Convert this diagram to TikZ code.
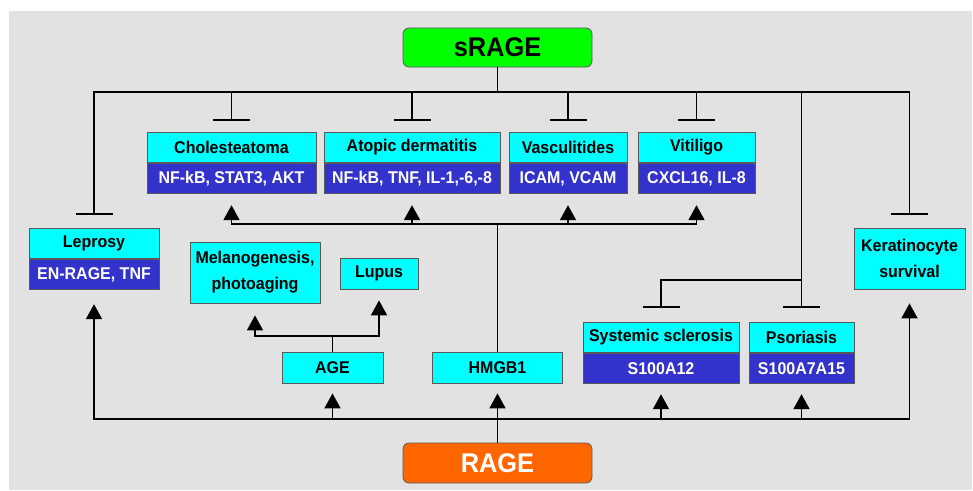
\documentclass[tikz,border=0pt]{standalone}
\usepackage{fontspec}
\setmainfont{Liberation Sans}[FakeStretch=0.94]
\usetikzlibrary{arrows.meta}
\definecolor{bggray}{HTML}{E2E2E2}
\definecolor{boxcyan}{HTML}{00FFFF}
\definecolor{boxblue}{HTML}{3333CC}
\definecolor{sragegreen}{HTML}{00FF00}
\definecolor{rageorange}{HTML}{FF6600}

\begin{document}
\begin{tikzpicture}
            [every node/.style={inner sep=0pt, font=\bfseries\fontsize{17}{26}\selectfont},
             namebox/.style={rectangle, fill=boxcyan, draw=black!65, line width=0.8pt, minimum height=30.5pt, text=black},
             genebox/.style={rectangle, fill=boxblue, draw=black!65, line width=0.8pt, minimum height=30.5pt, text=white, anchor=north},
             rootbox/.style={rectangle, rounded corners=6pt, draw=black!65, line width=0.8pt, minimum width=189pt, minimum height=39pt, font=\bfseries\fontsize{27}{30}\selectfont},
             link/.style={line width=1.8pt, color=black},
             inhibit/.style={link, -{Bar[width=37pt]}},
             activate/.style={link, -{Triangle[width=16pt, length=15pt]}}]
                \useasboundingbox (0pt, 0pt) rectangle (973pt, -490pt);
                \fill [bggray] (9pt, -11pt) rectangle (972pt, -490pt);
                % sRAGE and RAGE
                \node (srage) [rootbox, fill=sragegreen, text=black] at (497.5pt, -47.5pt) {sRAGE};
                \node (rage) [rootbox, fill=rageorange, text=white, minimum height=40pt] at (497.5pt, -463pt) {RAGE};
                % top row
                \node (chol) [namebox, minimum width=169pt] at (231.5pt, -147.25pt) {Cholesteatoma};
                \node (cholgenes) [genebox, minimum width=169pt] at (chol.south) {NF-kB, STAT3, AKT};
                \node (atop) [namebox, minimum width=176pt] at (412pt, -147.25pt) {Atopic dermatitis};
                \node (atopgenes) [genebox, minimum width=176pt] at (atop.south) {NF-kB, TNF, IL-1,-6,-8};
                \node (vasc) [namebox, minimum width=118pt] at (568pt, -147.25pt) {Vasculitides};
                \node (vascgenes) [genebox, minimum width=118pt] at (vasc.south) {ICAM, VCAM};
                \node (viti) [namebox, minimum width=117pt] at (696.5pt, -147.25pt) {Vitiligo};
                \node (vitigenes) [genebox, minimum width=117pt] at (viti.south) {CXCL16, IL-8};
                % middle
                \node (lep) [namebox, minimum width=130pt] at (94pt, -243.25pt) {Leprosy};
                \node (lepgenes) [genebox, minimum width=130pt] at (lep.south) {EN-RAGE, TNF};
                \node (mel) [namebox, minimum width=130pt, minimum height=61pt, align=center] at (255pt, -272.5pt) {Melanogenesis,\\photoaging};
                \node (lupus) [namebox, minimum width=78pt, minimum height=31pt] at (379pt, -273.5pt) {Lupus};
                \node (kera) [namebox, minimum width=111pt, minimum height=61pt, align=center] at (909.5pt, -258.5pt) {Keratinocyte\\survival};
                % bottom row
                \node (age) [namebox, minimum width=101pt, minimum height=31pt] at (332.5pt, -367.5pt) {AGE};
                \node (hmgb) [namebox, minimum width=130pt, minimum height=31pt] at (497.5pt, -367.5pt) {HMGB1};
                \node (ssc) [namebox, minimum width=156pt] at (661pt, -337.25pt) {Systemic sclerosis};
                \node (sscgenes) [genebox, minimum width=156pt] at (ssc.south) {S100A12};
                \node (psor) [namebox, minimum width=105pt] at (801.5pt, -337.25pt) {Psoriasis};
                \node (psorgenes) [genebox, minimum width=105pt] at (psor.south) {S100A7A15};
                % junctions
                \coordinate (sbus) at (497.5pt, -92pt);
                \coordinate (pbus) at (801.5pt, -280pt);
                \coordinate (hbus) at (497.5pt, -224pt);
                \coordinate (abus) at (332.5pt, -336pt);
                \coordinate (rbus) at (497.5pt, -419pt);
                % sRAGE inhibits
                \draw [link] (srage) to (sbus);
                \draw [inhibit, shorten >=13pt] (sbus) -| (lep.north);
                \draw [inhibit, shorten >=13pt] (sbus) -| (kera.north);
                \draw [inhibit, shorten >=11pt] (chol.north |- sbus) to (chol.north);
                \draw [inhibit, shorten >=11pt] (atop.north |- sbus) to (atop.north);
                \draw [inhibit, shorten >=11pt] (vasc.north |- sbus) to (vasc.north);
                \draw [inhibit, shorten >=11pt] (viti.north |- sbus) to (viti.north);
                \draw [inhibit, shorten >=14pt] (psor.north |- sbus) to (psor.north);
                \draw [inhibit, shorten >=14pt] (pbus) -| (ssc.north);
                % HMGB1 and AGE
                \draw [link] (hmgb) to (hbus);
                \draw [activate, shorten >=11pt] (hbus) -| (cholgenes.south);
                \draw [activate, shorten >=11pt] (hbus) -| (vitigenes.south);
                \draw [activate, shorten >=11pt] (atopgenes.south |- hbus) to (atopgenes.south);
                \draw [activate, shorten >=11pt] (vascgenes.south |- hbus) to (vascgenes.south);
                \draw [link] (age) to (abus);
                \draw [activate, shorten >=12pt] (abus) -| (mel.south);
                \draw [activate, shorten >=11pt] (abus) -| (lupus.south);
                % RAGE activates
                \draw [activate, shorten >=10pt] (rage) to (hmgb);
                \draw [activate, shorten >=14pt] (rbus) -| (lepgenes.south);
                \draw [activate, shorten >=14pt] (rbus) -| (kera.south);
                \draw [activate, shorten >=10pt] (age.south |- rbus) to (age.south);
                \draw [activate, shorten >=10pt] (sscgenes.south |- rbus) to (sscgenes.south);
                \draw [activate, shorten >=10pt] (psorgenes.south |- rbus) to (psorgenes.south);
            \end{tikzpicture}
\end{document}
